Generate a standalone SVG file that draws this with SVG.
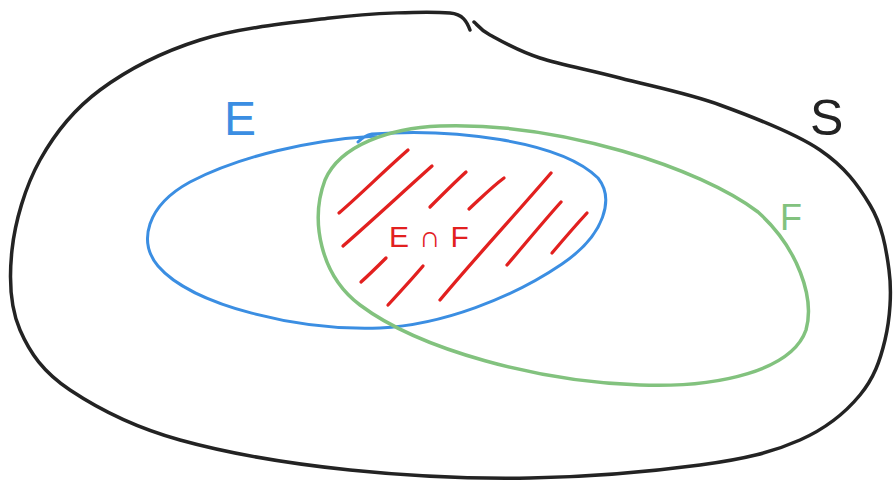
<svg xmlns="http://www.w3.org/2000/svg" width="893" height="488" viewBox="0 0 893 488">
<style>
.s{fill:none;stroke-linecap:round;stroke-linejoin:round}
.k{stroke:#232323;stroke-width:3.5}
.b{stroke:#3b8ee2;stroke-width:3}
.g{stroke:#82c27e;stroke-width:3.5}
.r{stroke:#e2201f;stroke-width:3.3}
.t{font-family:"Liberation Sans",Arial,sans-serif}
</style>
<rect width="893" height="488" fill="#fff"/>
<g id="S">
<path class="s k" d="M474,22 C477,24 479,29 490,35 C501,41 518,51 540,58 C562,65 590,70 620,78 C650,86 687,93 720,105 C753,117 795,133 820,150 C845,167 858,185 870,205 C882,225 886,247 889,270 C892,292 890,319 885,340 C880,361 874,378 860,395 C846,412 827,428 800,440 C773,452 745,459 700,465 C655,471 588,477 530,478 C472,479 408,476 350,470 C292,464 227,453 180,440 C133,427 97,408 70,390 C43,372 30,353 20,330 C10,307 9,278 12,250 C15,222 25,187 40,160 C55,133 73,110 100,90 C127,70 162,52 200,40 C238,28 288,23 330,18 C372,13 427,11 450,13 C463,14 467,22 470,30"/>
<text class="t" x="810" y="135" font-size="50" fill="#232323">S</text>
</g>
<g id="E">
<path class="s b" d="M358,142 C362,138 366,135 372,134 C450,128 560,140 598,178 C614,198 606,234 562,264 C512,298 442,325 380,328 C300,331 192,306 158,266 C138,242 146,206 190,182 C240,156 310,140 376,136"/>
<text class="t" x="224" y="135" font-size="48" fill="#3b8ee2">E</text>
</g>
<g id="F">
<path class="s g" d="M440,126 C560,122 700,168 758,212 C798,248 815,298 806,330 C792,370 720,388 640,385 C540,382 420,350 360,305 C320,275 310,220 325,180 C340,145 390,128 440,126 Z"/>
<text class="t" x="780" y="230" font-size="36" fill="#82c27e">F</text>
</g>
<g id="EnF">
<path class="s r" d="M339,213 C360,195 385,170 408,150"/>
<path class="s r" d="M343,246 C375,218 405,190 432,166"/>
<path class="s r" d="M430,207 C443,194 455,182 466,172"/>
<path class="s r" d="M469,209 C482,197 493,186 504,178"/>
<path class="s r" d="M440,300 C475,258 515,215 551,173"/>
<path class="s r" d="M507,265 C525,244 543,222 561,202"/>
<path class="s r" d="M552,253 C563,240 575,226 587,213"/>
<path class="s r" d="M361,282 C370,274 378,266 386,258"/>
<path class="s r" d="M388,305 C400,292 412,279 423,266"/>
<text class="t" x="389" y="247" font-size="30" fill="#e2201f" letter-spacing="10">E∩F</text>
</g>
</svg>
